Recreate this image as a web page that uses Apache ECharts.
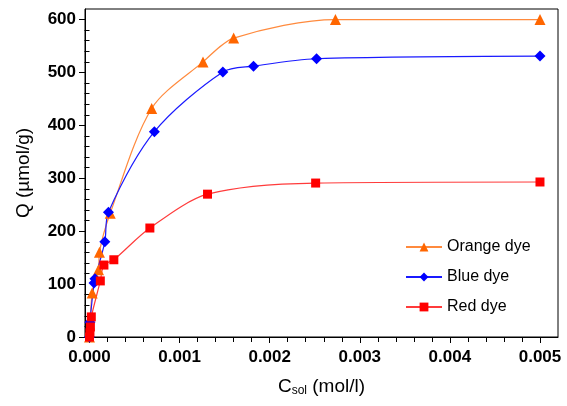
<!DOCTYPE html>
<html>
<head>
<meta charset="utf-8">
<script src="https://cdn.jsdelivr.net/npm/echarts@6/dist/echarts.min.js"></script>
<style>
html,body{margin:0;padding:0;background:#fff;}
#chart{width:567px;height:406px;}
</style>
</head>
<body>
<div id="chart"></div>
<script>
// Data
const seriesNames = ['Orange dye', 'Blue dye', 'Red dye'];
const orangeX = [0, 0.00003, 0.0001, 0.00011, 0.00023, 0.00069, 0.00126, 0.0016, 0.00273, 0.005];
const orangeY = [0, 83, 127, 160, 234, 432, 520, 565, 600, 600];
const blueX = [0, 0.000005, 0.00005, 0.00006, 0.00017, 0.00021, 0.00072, 0.00148, 0.00182, 0.00252, 0.005];
const blueY = [0, 28, 102, 110, 180, 236, 388, 501, 512, 526, 531];
const redX = [0, 0.000005, 0.00001, 0.00002, 0.00012, 0.00016, 0.00027, 0.00067, 0.00131, 0.00251, 0.005];
const redY = [0, 8, 19, 38, 106, 136, 146, 206, 270, 291, 293];

// Tick values
const xMajorTicks = [0, 0.001, 0.002, 0.003, 0.004, 0.005];
const xMinorTicks = [0.0002, 0.0004, 0.0006, 0.0008, 0.0012, 0.0014, 0.0016, 0.0018,
  0.0022, 0.0024, 0.0026, 0.0028, 0.0032, 0.0034, 0.0036, 0.0038,
  0.0042, 0.0044, 0.0046, 0.0048];
const yMajorTicks = [0, 100, 200, 300, 400, 500, 600];
const yMinorTicks = [20, 40, 60, 80, 120, 140, 160, 180, 220, 240, 260, 280,
  320, 340, 360, 380, 420, 440, 460, 480, 520, 540, 560, 580];

function pairs(xs, ys) { return xs.map((x, i) => [x, ys[i]]); }

const FONT = 'Liberation Sans, Arial, sans-serif';
const xMin = -0.00005, xMax = 0.0052, yMin = 0, yMax = 620;

const chart = echarts.init(document.getElementById('chart'), null, {renderer: 'canvas'});
chart.setOption({
  animation: false,
  backgroundColor: '#fff',
  grid: {left: 85, right: 9, top: 9, bottom: 69, show: true, borderColor: '#000', borderWidth: 1, backgroundColor: 'transparent'},
  legend: {
    orient: 'vertical', left: 400, top: 234, itemGap: 14, itemWidth: 36, itemHeight: 11,
    data: seriesNames,
    textStyle: {fontFamily: FONT, fontSize: 16, color: '#000', padding: [0, 0, 0, 0]}
  },
  xAxis: [{
    type: 'value', min: xMin, max: xMax,
    name: '{c|C}{s|sol}{c| (mol/l)}', nameLocation: 'middle', nameGap: 40,
    nameTextStyle: {rich: {c: {fontFamily: FONT, fontSize: 19, color: '#000'}, s: {fontFamily: FONT, fontSize: 12, color: '#000', verticalAlign: 'bottom', padding: [8, 0, 0, 0]}}},
    axisLine: {show: true, onZero: false, lineStyle: {color: '#000', width: 1}},
    axisTick: {show: true, customValues: xMajorTicks, length: 6, lineStyle: {color: '#000'}},
    axisLabel: {customValues: xMajorTicks, margin: 12, fontFamily: FONT, fontSize: 17, fontWeight: 'bold', color: '#000', formatter: v => v.toFixed(3)},
    splitLine: {show: false}
  }, {
    type: 'value', min: xMin, max: xMax, position: 'bottom',
    axisLine: {show: false},
    axisTick: {show: true, customValues: xMinorTicks, length: 5, lineStyle: {color: '#000'}},
    axisLabel: {show: false},
    splitLine: {show: false}
  }],
  yAxis: [{
    type: 'value', min: yMin, max: yMax,
    name: 'Q (µmol/g)', nameLocation: 'middle', nameGap: 52,
    nameTextStyle: {fontFamily: FONT, fontSize: 19, color: '#000'},
    axisLine: {show: true, onZero: false, lineStyle: {color: '#000', width: 1}},
    axisTick: {show: true, customValues: yMajorTicks, length: 6, lineStyle: {color: '#000'}},
    axisLabel: {customValues: yMajorTicks, margin: 9, fontFamily: FONT, fontSize: 17, fontWeight: 'bold', color: '#000'},
    splitLine: {show: false}
  }, {
    type: 'value', min: yMin, max: yMax, position: 'left',
    axisLine: {show: false},
    axisTick: {show: true, customValues: yMinorTicks, length: 5, lineStyle: {color: '#000'}},
    axisLabel: {show: false},
    splitLine: {show: false}
  }],
  series: [{
    name: seriesNames[0], type: 'line', data: pairs(orangeX, orangeY),
    smooth: 0.3,
    symbol: 'triangle', symbolSize: 11,
    itemStyle: {color: '#ff6600'}, lineStyle: {color: '#ff8a3d', width: 1.2}, clip: false
  }, {
    name: seriesNames[1], type: 'line', data: pairs(blueX, blueY),
    smooth: 0.3,
    symbol: 'diamond', symbolSize: 11,
    itemStyle: {color: '#0000ff'}, lineStyle: {color: '#1a1aff', width: 1.2}, clip: false
  }, {
    name: seriesNames[2], type: 'line', data: pairs(redX, redY),
    smooth: 0.3,
    symbol: 'rect', symbolSize: 9,
    itemStyle: {color: '#ff0000'}, lineStyle: {color: '#ff3b3b', width: 1.2}, clip: false
  }]
});
</script>
</body>
</html>
